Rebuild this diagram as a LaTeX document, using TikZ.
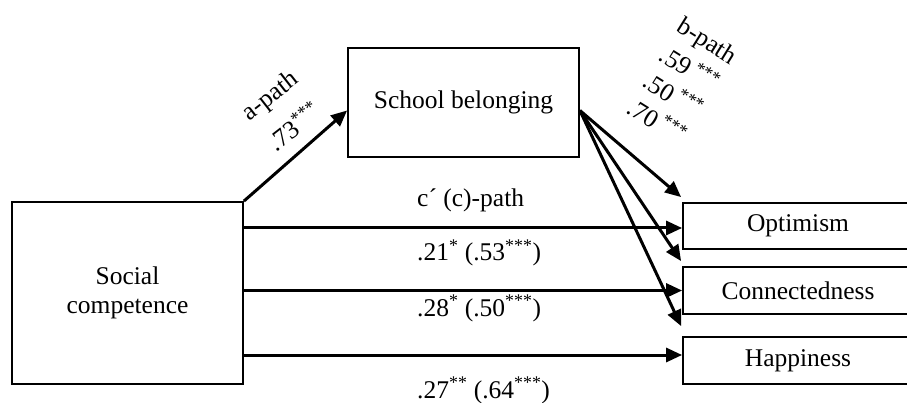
\documentclass[tikz,border=0pt]{standalone}
\usepackage{fontspec}
\setmainfont{Liberation Serif}
\usetikzlibrary{arrows.meta,calc}
\tikzset{
  box/.style={draw, line width=1.8pt, fill=white, inner sep=0pt, align=center},
  arr/.style={line width=3pt, -{Triangle[length=16pt,width=14pt]}},
  lbl/.style={inner sep=0pt}
}
\begin{document}
\begin{tikzpicture}[x=1pt,y=-1pt,font=\fontsize{25.5}{29}\selectfont]
\useasboundingbox (0,0) rectangle (907,403);
\clip (0,0) rectangle (907,403);
\node[box, minimum width=231pt, minimum height=182pt] (soc) at (127.5,293) {Social\\competence};
\node[box, minimum width=231pt, minimum height=109pt] (sch) at (463.5,102.5) {School belonging};
\node[box, minimum width=230pt, minimum height=46pt] (opt) at (798,226) {Optimism};
\node[box, minimum width=230pt, minimum height=47pt] (con) at (798,290.5) {Connectedness};
\node[box, minimum width=230pt, minimum height=47pt] (hap) at (798,360.5) {Happiness};

% a-path
\draw[arr] (soc.north east) -- ($(sch.west)+(0,8)$);
\node[lbl, rotate=38, align=center] (alab) at (282,111) {a-path\\[12pt].73\textsuperscript{***}};

% b-paths
\coordinate (bs) at ($(sch.east)+(0,8)$);
\coordinate (bo) at ($(opt.north west)+(-1,-5)$);
\coordinate (bc) at ($(con.north west)+(-1,-5)$);
\coordinate (bh) at ($(hap.north west)+(-1,-10)$);
\draw[arr] (bs) -- (bo);
\draw[arr] (bs) -- (bc);
\draw[arr] (bs) -- (bh);
\node[lbl, rotate=-32, align=center] (blab) at (682,81)
  {b-path\\[5pt].59\,\textsuperscript{***}\\[2pt].50\,\textsuperscript{***}\\[2pt].70\,\textsuperscript{***}};

% c-paths
\coordinate (ho) at ($(opt.west)+(0,2)$);
\coordinate (hc) at (con.west);
\coordinate (hh) at ($(hap.west)+(0,-5.5)$);
\draw[arr] (soc.east |- ho) -- (ho);
\draw[arr] (soc.east |- hc) -- (hc);
\draw[arr] (soc.east |- hh) -- (hh);
\node[lbl, anchor=base west] (cp) at (417,207) {c´ (c)-path};
\node[lbl, anchor=base west] (c1) at (417,261) {.21\textsuperscript{*} (.53\textsuperscript{***})};
\node[lbl, anchor=base west] (c2) at (417,316) {.28\textsuperscript{*} (.50\textsuperscript{***})};
\node[lbl, anchor=base west] (c3) at (417,398) {.27\textsuperscript{**} (.64\textsuperscript{***})};
\end{tikzpicture}
\end{document}
